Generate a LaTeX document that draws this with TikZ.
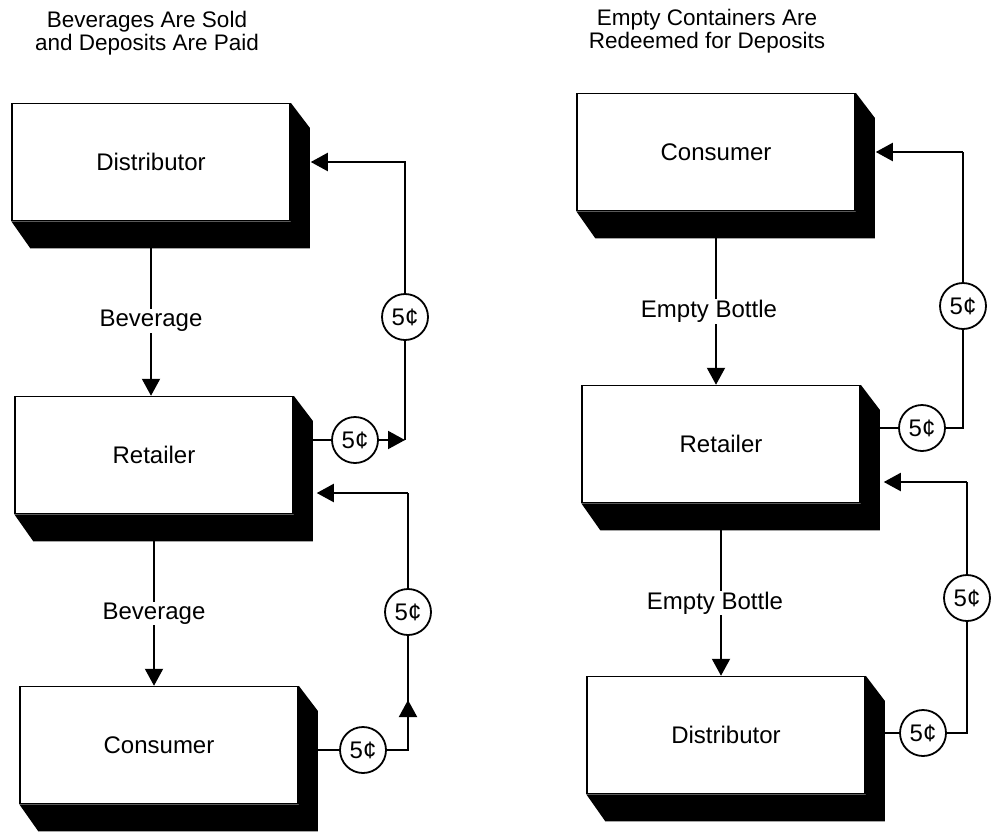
\documentclass[tikz,border=0pt]{standalone}
\usepackage{fontspec}
\setmainfont{Liberation Sans}
\usetikzlibrary{positioning,calc,arrows.meta}

\begin{document}
\begin{tikzpicture}[
  x=1pt, y=-1pt,
  box/.style={draw, line width=1.5pt, fill=white, minimum width=278pt,
              minimum height=117pt, inner sep=0pt, font=\fontsize{24}{28}\selectfont},
  coin/.style={draw, circle, line width=1.8pt, fill=white, minimum size=46pt,
               inner sep=0pt, font=\fontsize{24}{28}\selectfont},
  lbl/.style={fill=white, inner sep=1pt, font=\fontsize{24}{28}\selectfont},
  ttl/.style={align=center, font=\fontsize{22.5}{23}\selectfont},
  wire/.style={line width=2pt},
  arr/.style={wire, -{Triangle[length=17pt,width=18pt]}}
]
\clip (0,0) rectangle (996,833);
\fill[white] (0,0) rectangle (996,833);

% titles
\node[ttl] (tleft)  at (147,33) {Beverages Are Sold\\and Deposits Are Paid};
\node[ttl] (tright) at (707,31) {Empty Containers Are\\Redeemed for Deposits};

% boxes
\node[box] (ld) at (151,162) {Distributor};
\node[box] (lr) at (154,455) {Retailer};
\node[box] (lc) at (159,745) {Consumer};
\node[box] (rc) at (716,152) {Consumer};
\node[box] (rr) at (721,444) {Retailer};
\node[box] (rd) at (726,735) {Distributor};

% solid sides
\foreach \b in {ld,lr,lc,rc,rr,rd}
  \fill (\b.north east) -- ++(19,25) -- ($(\b.south east)+(19,27)$)
    -- ($(\b.south west)+(19,27)$) -- (\b.south west) -- (\b.south east) -- cycle;

% goods
\draw[arr] ($(ld.south)+(0,25)$) -- node[lbl]{Beverage} (ld.south |- lr.north);
\draw[arr] ($(lr.south)+(0,27)$) -- node[lbl]{Beverage} (lr.south |- lc.north);
\draw[arr] ($(rc.south)+(0,27)$) -- node[lbl, xshift=-7pt]{Empty Bottle} (rc.south |- rr.north);
\draw[arr] ($(rr.south)+(0,27)$) -- node[lbl, xshift=-6pt]{Empty Bottle} (rr.south |- rd.north);

% deposits, left
\node[coin] (c1) at (355,440) {5¢};
\node[coin] (c2) at (405,317) {5¢};
\coordinate (k1) at (405,440);
\coordinate (k2) at (405,162);
\draw[wire] (lr.east |- c1) -- (c1);
\draw[arr] (c1) -- (k1);
\draw[arr, shorten >=20pt] (k1) -- (c2) -- (k2) -- (ld.east |- k2);

\node[coin] (c3) at (408,612) {5¢};
\node[coin] (c4) at (363,750) {5¢};
\coordinate (k3) at (408,750);
\coordinate (k4) at (408,493);
\coordinate (kup) at (408,700);
\draw[wire] (lc.east |- c4) -- (c4) -- (k3) -- (c3) -- (k4);
\draw[arr] (k3) -- (kup);
\draw[arr, shorten >=23pt] (k4) -- (lr.east |- k4);

% deposits, right
\node[coin] (c5) at (922,428) {5¢};
\node[coin] (c6) at (963,306) {5¢};
\coordinate (k5) at (963,428);
\coordinate (k6) at (963,152);
\draw[wire] (rr.east |- c5) -- (c5) -- (k5) -- (c6) -- (k6);
\draw[arr, shorten >=20pt] (k6) -- (rc.east |- k6);

\node[coin] (c7) at (923,733) {5¢};
\node[coin] (c8) at (967,598) {5¢};
\coordinate (k7) at (967,733);
\coordinate (k8) at (967,482);
\draw[wire] (rd.east |- c7) -- (c7) -- (k7) -- (c8) -- (k8);
\draw[arr, shorten >=23pt] (k8) -- (rr.east |- k8);
\end{tikzpicture}
\end{document}
